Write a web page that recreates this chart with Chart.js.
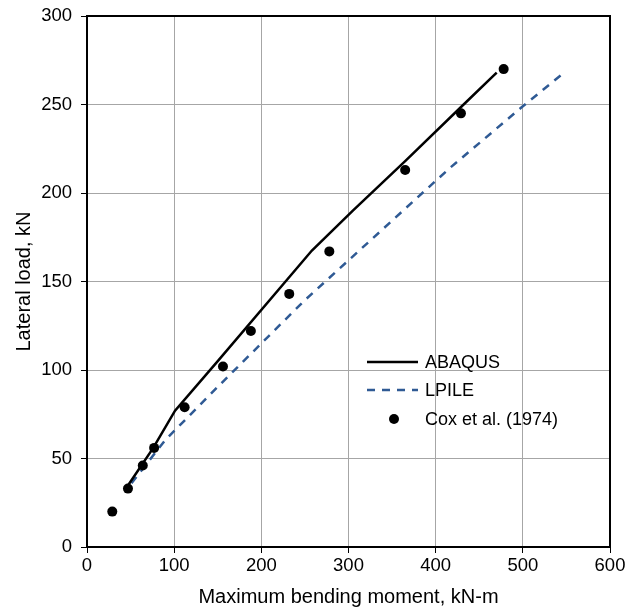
<!DOCTYPE html>
<html>
<head>
<meta charset="utf-8">
<script src="https://cdn.jsdelivr.net/npm/chart.js@4/dist/chart.umd.min.js"></script>
<style>
  html, body { margin: 0; padding: 0; background: #fff; }
  #wrap { width: 636px; height: 613px; }
</style>
</head>
<body>
<div id="wrap"><canvas id="c" width="636" height="613"></canvas></div>
<script>
// Lateral load vs. maximum bending moment of the pile
const abaqusMoment = [46, 76, 101, 150, 258, 305, 365, 430, 470];
const abaqusLoad   = [34, 56, 77, 105, 167.5, 190, 218, 249, 268];

const lpileMoment = [51, 70, 90, 150, 250, 416, 500, 546];
const lpileLoad   = [36, 48, 60.5, 90.5, 139.5, 214, 249, 267.5];

const coxMoment = [29, 47, 64, 77, 112, 156, 188, 232, 278, 365, 429, 478];
const coxLoad   = [20, 33, 46, 56, 79, 102, 122, 143, 167, 213, 245, 270];

const xTicks = [0, 100, 200, 300, 400, 500, 600];
const yTicks = [0, 50, 100, 150, 200, 250, 300];

const seriesNames = ['ABAQUS', 'LPILE', 'Cox et al. (1974)'];

const pairs = (xs, ys) => xs.map((x, i) => ({ x: x, y: ys[i] }));

const FONT = '"Liberation Sans", Arial, sans-serif';
const BLUE = '#2f5a94';

// Black frame around the plotting area
const framePlugin = {
  id: 'frame',
  beforeDatasetsDraw(chart) {
    const a = chart.chartArea, ctx = chart.ctx;
    ctx.save();
    ctx.strokeStyle = '#000';
    ctx.lineWidth = 2;
    ctx.strokeRect(a.left, a.top, a.right - a.left, a.bottom - a.top);
    ctx.restore();
  }
};

// Legend drawn inside the plotting area
const innerLegend = {
  id: 'innerLegend',
  afterDraw(chart) {
    const ctx = chart.ctx;
    const x0 = 367, x1 = 418, tx = 425;
    const rows = [362, 390, 419];
    ctx.save();
    ctx.font = '18px ' + FONT;
    ctx.fillStyle = '#000';
    ctx.textBaseline = 'middle';
    chart.data.datasets.forEach((ds, i) => {
      const y = rows[i];
      if (ds.showLine) {
        ctx.beginPath();
        ctx.strokeStyle = ds.borderColor;
        ctx.lineWidth = ds.borderWidth;
        ctx.setLineDash(ds.borderDash || []);
        ctx.moveTo(x0, y);
        ctx.lineTo(x1, y);
        ctx.stroke();
        ctx.setLineDash([]);
      } else {
        ctx.beginPath();
        ctx.fillStyle = ds.backgroundColor;
        ctx.arc(394, y, 5, 0, Math.PI * 2);
        ctx.fill();
        ctx.fillStyle = '#000';
      }
      ctx.fillText(ds.label, tx, y + 1);
    });
    ctx.restore();
  }
};

new Chart(document.getElementById('c'), {
  type: 'scatter',
  data: {
    datasets: [
      {
        label: seriesNames[0],
        data: pairs(abaqusMoment, abaqusLoad),
        showLine: true,
        borderColor: '#000',
        borderWidth: 2.5,
        pointRadius: 0,
        fill: false,
        order: 1
      },
      {
        label: seriesNames[1],
        data: pairs(lpileMoment, lpileLoad),
        showLine: true,
        borderColor: BLUE,
        borderWidth: 2.5,
        borderDash: [8, 7],
        pointRadius: 0,
        fill: false,
        order: 2
      },
      {
        label: seriesNames[2],
        data: pairs(coxMoment, coxLoad),
        showLine: false,
        backgroundColor: '#000',
        borderColor: '#000',
        pointRadius: 5,
        pointBorderWidth: 0,
        order: 0
      }
    ]
  },
  options: {
    responsive: false,
    animation: false,
    layout: { padding: { left: 8, right: 26, top: 16, bottom: 4 } },
    plugins: {
      legend: { display: false },
      tooltip: { enabled: false }
    },
    scales: {
      x: {
        type: 'linear',
        min: 0, max: 600,
        afterBuildTicks(scale) { scale.ticks = xTicks.map(v => ({ value: v })); },
        afterFit(scale) { scale.height = 62; scale.paddingLeft = 0; scale.paddingRight = 0; },
        border: { display: false },
        grid: { color: '#a6a6a6', lineWidth: 1, tickColor: '#000', tickLength: 6, drawTicks: true },
        ticks: { color: '#000', font: { family: FONT, size: 18.5 }, padding: 2 },
        title: {
          display: true,
          text: 'Maximum bending moment, kN-m',
          color: '#000',
          font: { family: FONT, size: 20 },
          padding: { top: 2, bottom: 0 }
        }
      },
      y: {
        type: 'linear',
        min: 0, max: 300,
        afterBuildTicks(scale) { scale.ticks = yTicks.map(v => ({ value: v })); },
        afterFit(scale) { scale.width = 79; scale.paddingTop = 0; scale.paddingBottom = 0; },
        border: { display: false },
        grid: { color: '#a6a6a6', lineWidth: 1, tickColor: '#000', tickLength: 6, drawTicks: true },
        ticks: { color: '#000', font: { family: FONT, size: 18.5 }, padding: 9 },
        title: {
          display: true,
          text: 'Lateral load, kN',
          color: '#000',
          font: { family: FONT, size: 20 },
          padding: { top: 4, bottom: 0 }
        }
      }
    }
  },
  plugins: [framePlugin, innerLegend]
});
</script>
</body>
</html>
